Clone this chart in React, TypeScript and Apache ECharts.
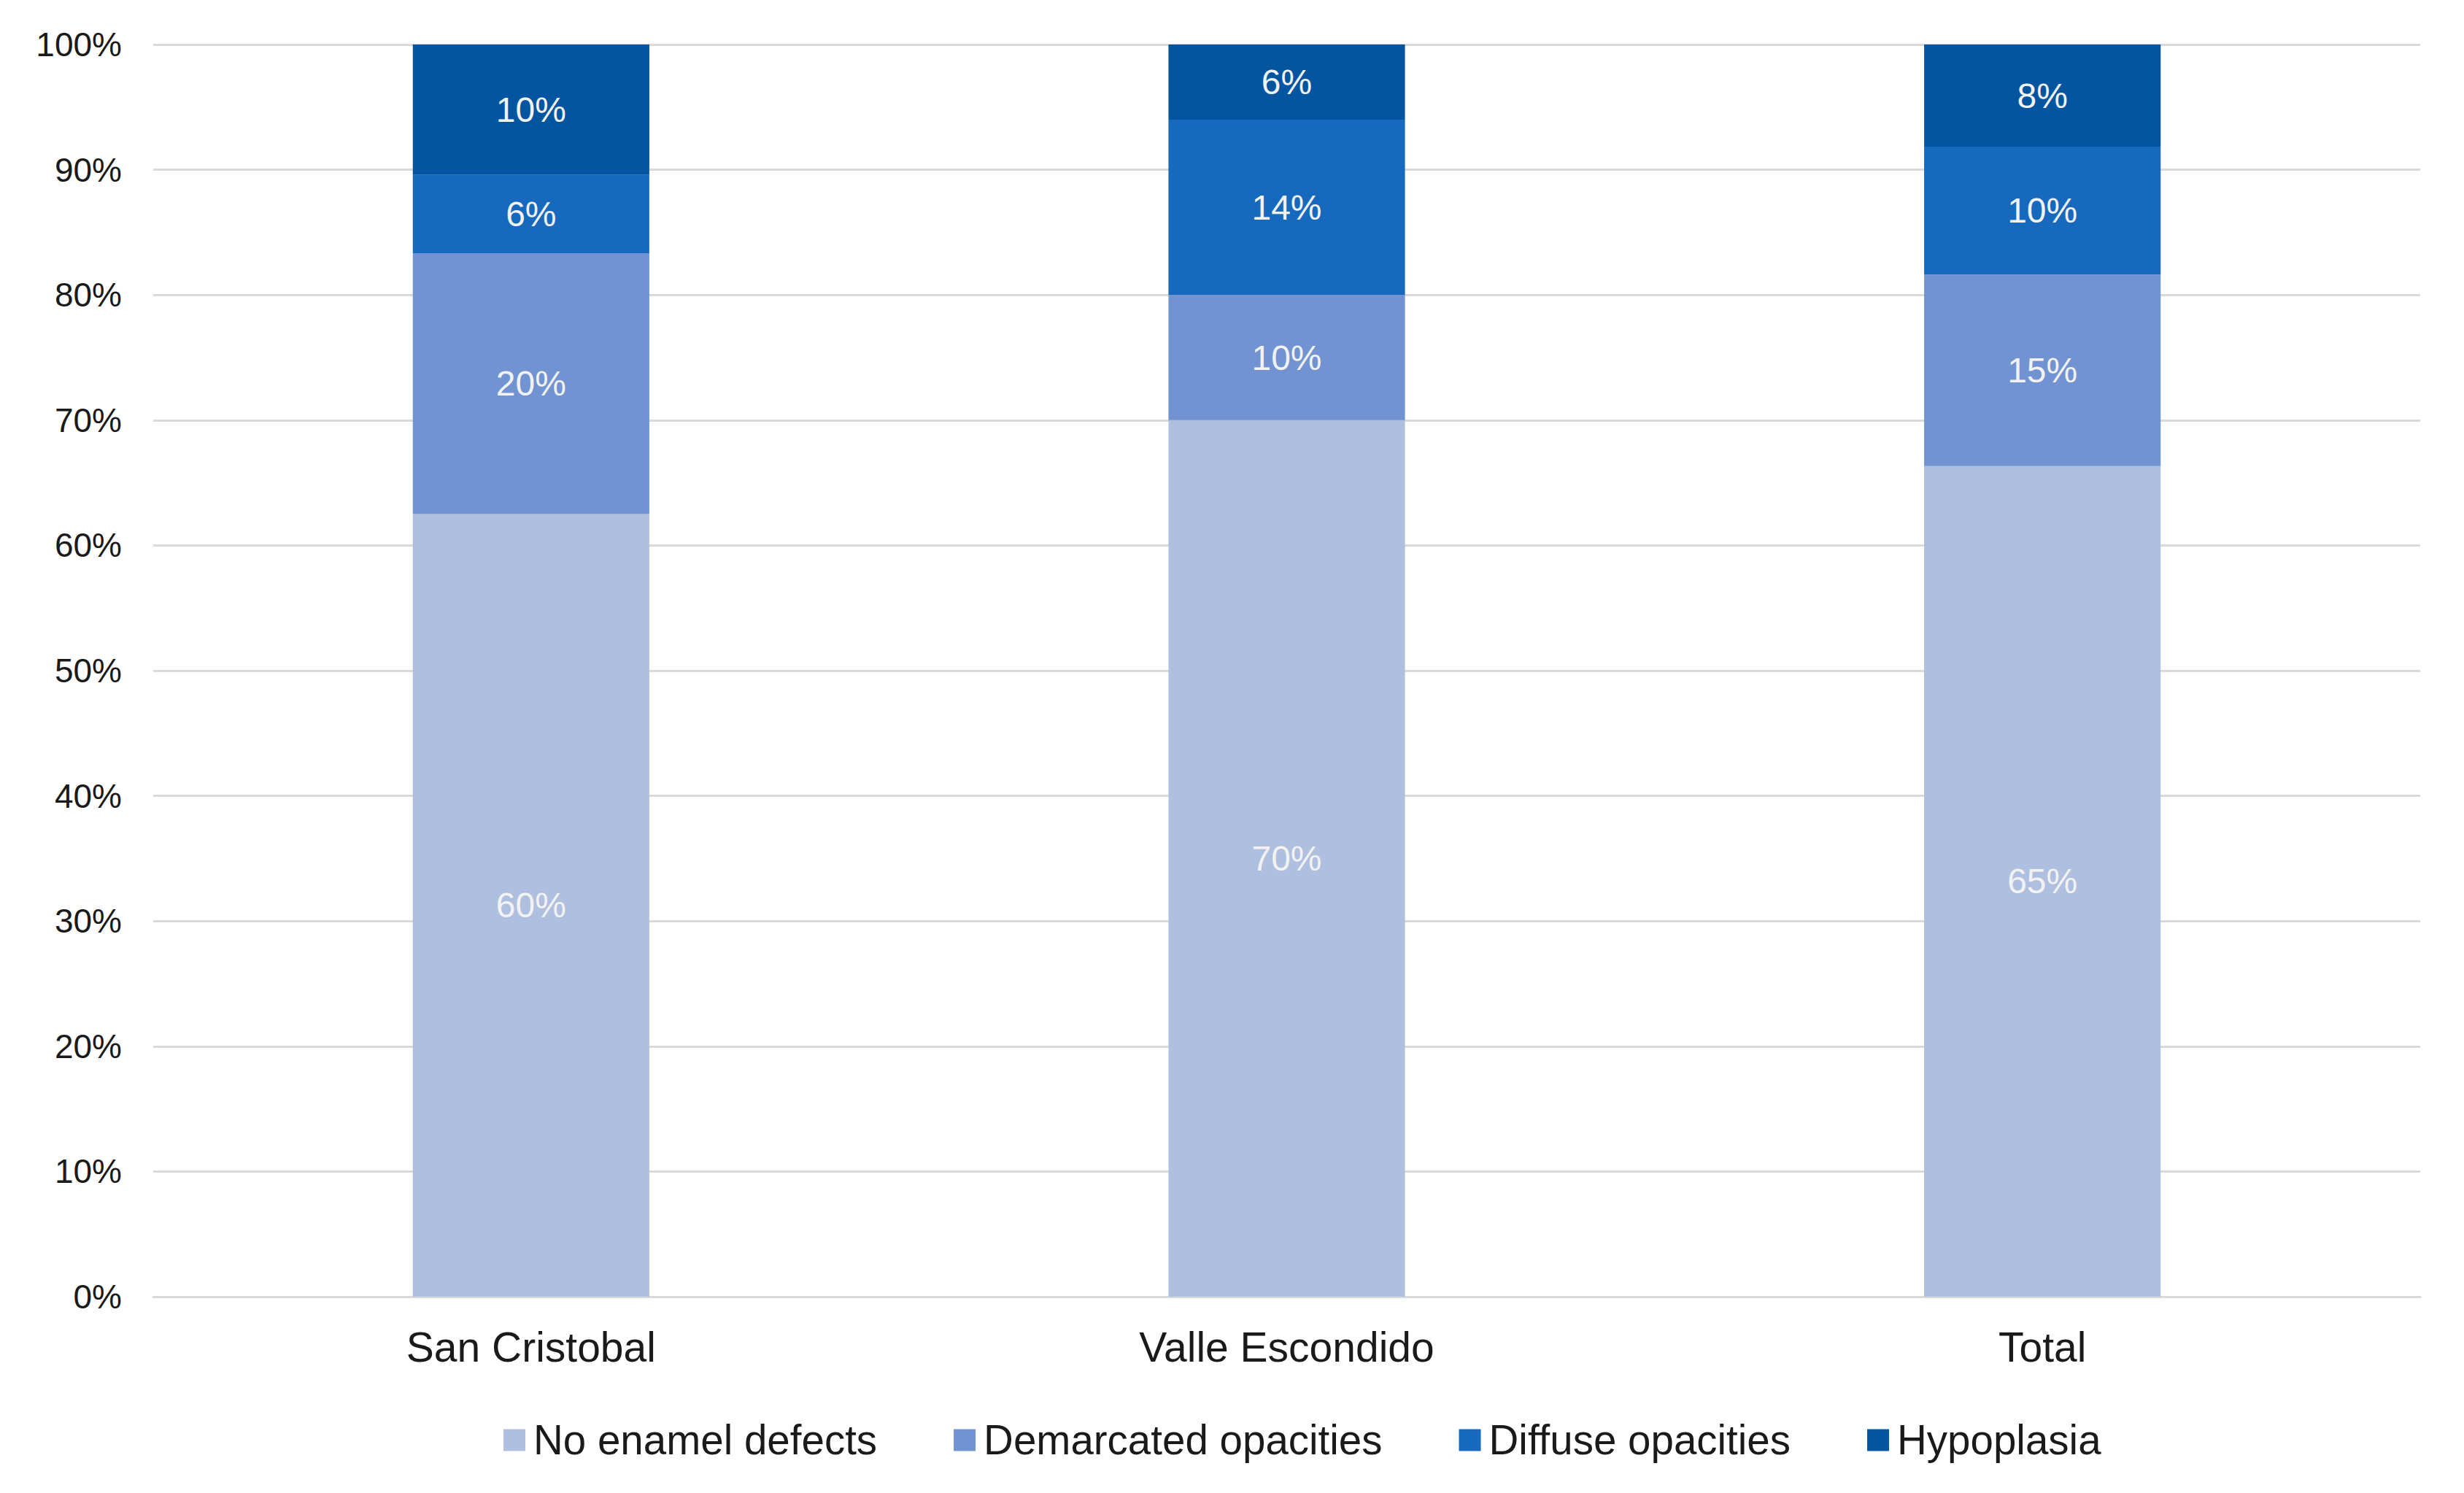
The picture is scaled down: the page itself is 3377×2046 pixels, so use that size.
import React, { useEffect, useRef } from "react";
import * as echarts from "echarts";

const categories = ["San Cristobal", "Valle Escondido", "Total"];
const seriesNames = ["No enamel defects", "Demarcated opacities", "Diffuse opacities", "Hypoplasia"];
const noDefects = [60, 70, 65];
const demarcated = [20, 10, 15];
const diffuse = [6, 14, 10];
const hypoplasia = [10, 6, 8];
const yTicks = [0, 10, 20, 30, 40, 50, 60, 70, 80, 90, 100];
const colors = ["#AFBFE0", "#7193D1", "#1769BE", "#04559F"];

export default function App() {
  const ref = useRef<HTMLDivElement>(null);
  useEffect(() => {
    document.body.style.margin = "0";
    const chart = echarts.init(ref.current!, null, { renderer: "svg" });
    const raw = [noDefects, demarcated, diffuse, hypoplasia];
    const totals = categories.map((_, i) => raw.reduce((s, arr) => s + arr[i], 0));
    const font = "Liberation Sans, Arial, sans-serif";
    chart.setOption({
      animation: false,
      backgroundColor: "#ffffff",
      grid: { left: 210, right: 60, top: 61, bottom: 269, containLabel: false },
      legend: {
        data: seriesNames,
        left: 685,
        top: 1940,
        itemWidth: 30,
        itemHeight: 30,
        itemGap: 105,
        icon: "rect",
        textStyle: { fontFamily: font, fontSize: 56.5, color: "#1a1a1a", padding: [0, 0, 0, 6] },
      },
      xAxis: {
        type: "category",
        data: categories,
        axisTick: { show: false },
        axisLine: { show: true, lineStyle: { color: "#D9D9D9", width: 3 } },
        axisLabel: { fontFamily: font, fontSize: 57, color: "#1a1a1a", margin: 40 },
      },
      yAxis: {
        type: "value",
        min: yTicks[0],
        max: yTicks[yTicks.length - 1],
        interval: 10,
        axisLine: { show: false },
        axisTick: { show: false },
        splitLine: { lineStyle: { color: "#D9D9D9", width: 3 } },
        axisLabel: { fontFamily: font, fontSize: 46, color: "#1a1a1a", margin: 43, formatter: "{value}%" },
      },
      series: seriesNames.map((name, si) => ({
        name,
        type: "bar",
        stack: "total",
        barWidth: "31.3%",
        itemStyle: { color: colors[si] },
        label: {
          show: true,
          position: "inside",
          fontFamily: font,
          fontSize: 48,
          color: "#F2F2F2",
          formatter: (p: any) => raw[si][p.dataIndex] + "%",
        },
        data: raw[si].map((v, i) => (v / totals[i]) * 100),
      })),
    });
    return () => chart.dispose();
  }, []);
  return <div ref={ref} style={{ width: 3377, height: 2046 }} />;
}
